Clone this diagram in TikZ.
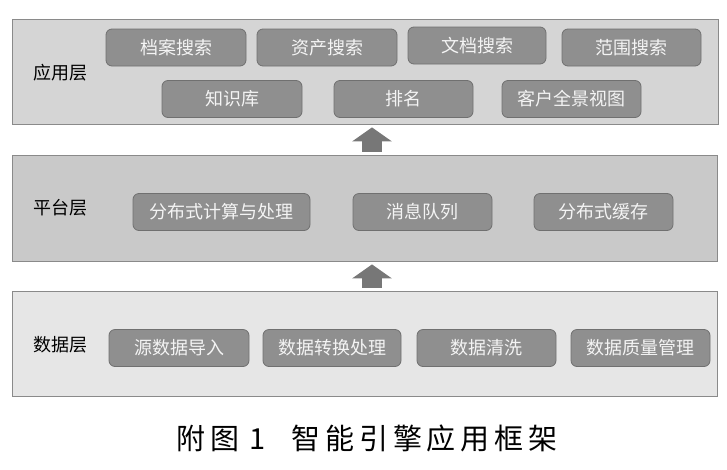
\documentclass[tikz,border=0pt]{standalone}
\usepackage{fontspec}
\newfontfamily\cjk{Noto Sans CJK SC}
\usepackage{tikz}
\usetikzlibrary{arrows.meta,positioning}
\definecolor{applayer}{HTML}{D5D5D5}
\definecolor{platlayer}{HTML}{C9C9C9}
\definecolor{datalayer}{HTML}{E6E6E6}
\definecolor{layeredge}{HTML}{8A8A8A}
\definecolor{boxfill}{HTML}{8F8F8F}
\definecolor{boxedge}{HTML}{707070}
\definecolor{boxtext}{HTML}{F4F4F4}
\definecolor{upfill}{HTML}{777777}

\begin{document}
\begin{tikzpicture}[
  x=1pt,y=-1pt,
  font=\cjk,
  panel/.style={draw=layeredge,line width=0.8pt,minimum width=706pt,minimum height=105pt,inner sep=0pt},
  part/.style={draw=boxedge,fill=boxfill,rounded corners=6pt,line width=0.8pt,minimum width=139pt,minimum height=37pt,
    inner sep=0pt,text=boxtext,font=\cjk\fontsize{18}{20}\selectfont},
  tag/.style={font=\cjk\fontsize{18}{20}\selectfont,text=black},
  uparrow/.style={draw=upfill,line width=20pt,shorten <=3pt,shorten >=3pt,-{Triangle[width=39pt,length=14pt]}}
]
\useasboundingbox (0,0) rectangle (727,469);
\node[panel,fill=applayer] (app) at (365,71.5) {};
\node[panel,fill=platlayer,minimum width=705pt,minimum height=106pt] (plat) at (364.5,208) {};
\node[panel,fill=datalayer,minimum width=705pt] (data) at (364.5,343.5) {};

\node[tag] (applbl) at (60,73) {应用层};
\node[tag] (platlbl) at (60,208) {平台层};
\node[tag] (datalbl) at (60,345) {数据层};

\node[part,minimum width=140pt] (archive) at (176,47.5) {档案搜索};
\node[part,minimum width=140pt] (asset) at (327,47.5) {资产搜索};
\node[part,minimum width=138pt] (doc) at (477,45.5) {文档搜索};
\node[part] (range) at (631.5,47.5) {范围搜索};
\node[part,minimum width=140pt] (know) at (232,99) {知识库};
\node[part] (rank) at (403.5,99) {排名};
\node[part] (client) at (571.5,99) {客户全景视图};

\node[part,minimum width=177pt] (compute) at (221.5,212) {分布式计算与处理};
\node[part] (queue) at (422.5,212) {消息队列};
\node[part] (cache) at (603.5,212) {分布式缓存};

\node[part,minimum width=140pt] (import) at (179,348) {源数据导入};
\node[part,minimum width=138pt] (convert) at (332,348) {数据转换处理};
\node[part] (clean) at (486.5,348) {数据清洗};
\node[part] (quality) at (640.5,348) {数据质量管理};

\draw[uparrow] ([xshift=7.5pt]plat.north) -- ([xshift=7pt]app.south);
\draw[uparrow] ([xshift=7.5pt]data.north) -- ([xshift=7.5pt]plat.south);

\node[font=\cjk\fontsize{29}{31}\selectfont\addfontfeature{LetterSpace=17}] (caption) at (367,438)
  {附图\hspace{10pt}1\hspace{26pt}智能引擎应用框架};
\end{tikzpicture}
\end{document}
